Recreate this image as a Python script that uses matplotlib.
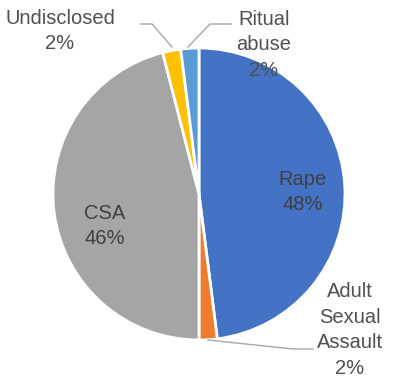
import matplotlib.pyplot as plt

# slice data (clockwise from 12 o'clock)
categories = ["Rape", "Adult\nSexual\nAssault", "CSA", "Undisclosed", "Ritual\nabuse"]
shares = [48, 2, 46, 2, 2]
colors = ["#4472C4", "#ED7D31", "#A5A5A5", "#FFC000", "#5B9BD5"]

W, H = 393, 385
CX, CY, R = 199, 194, 146   # pie centre / radius in pixels


def px(x, y):
    # pixel position -> data coords (pie radius = 1)
    return (x - CX) / R, (CY - y) / R


plt.rcParams['font.family'] = ['Liberation Sans', 'DejaVu Sans']
txt = "#505050"
line_col = "#A6A6A6"
ls = 1.45

fig = plt.figure(figsize=(W / 100, H / 100), dpi=100)
ax = fig.add_axes([0, 0, 1, 1])

wedges, _ = ax.pie(shares, colors=colors, startangle=90, counterclock=False,
                   wedgeprops=dict(edgecolor="white", linewidth=2))

x0, y1 = px(0, 0)
x1, y0 = px(W, H)
ax.set_xlim(x0, x1)
ax.set_ylim(y0, y1)
ax.set_aspect("auto")
ax.axis("off")

def label(i):
    return f"{categories[i]}\n{shares[i]}%"

fs = 14.5
# labels inside the big slices
ax.text(*px(303, 192), label(0), ha="center", va="center", fontsize=fs,
        color="#404040", linespacing=ls)
ax.text(*px(105, 226), label(2), ha="center", va="center", fontsize=fs,
        color="#404040", linespacing=ls)

# outside labels with leader lines
ax.text(*px(60, 31), label(3), ha="center", va="center", fontsize=fs,
        color=txt, linespacing=ls)
ax.plot(*zip(px(141, 24), px(152, 24), px(172, 47)), color=line_col, lw=1)

ax.text(*px(264, 45), label(4), ha="center", va="center", fontsize=fs,
        color=txt, linespacing=ls)
ax.plot(*zip(px(231, 24), px(210, 24), px(188, 47)), color=line_col, lw=1)

ax.text(*px(350, 330), label(1), ha="center", va="center", fontsize=fs,
        color=txt, linespacing=ls)
ax.plot(*zip(px(208, 340), px(293, 349), px(313, 349)), color=line_col, lw=1)

fig.savefig("out.png", dpi=100)
